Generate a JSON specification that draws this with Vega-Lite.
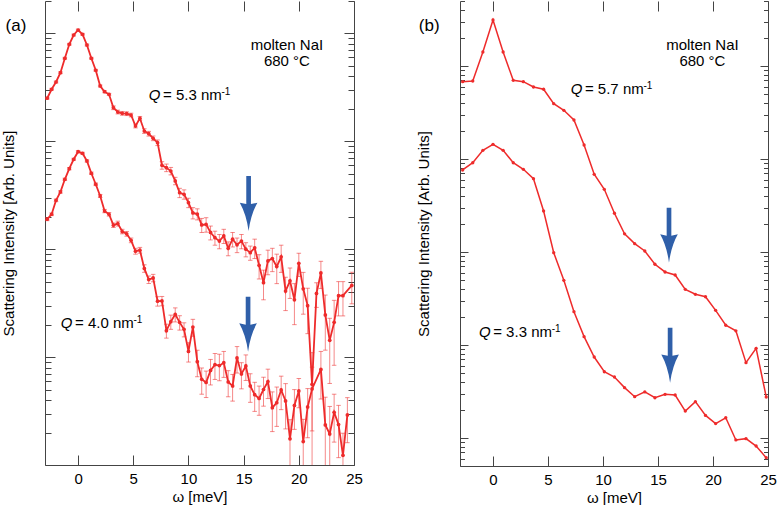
{
  "$schema": "https://vega.github.io/schema/vega-lite/v6.json",
  "background": "white",
  "padding": {"left": 1, "top": 0, "right": 2, "bottom": 0},
  "spacing": 106,
  "bounds": "flush",
  "config": {
    "font": "Liberation Sans",
    "view": {"stroke": null},
    "axis": {
      "domainColor": "#444", "tickColor": "#444", "labelColor": "#000", "titleColor": "#000",
      "labelFont": "Liberation Sans", "titleFont": "Liberation Sans",
      "labelFontSize": 15, "titleFontSize": 15, "titleFontWeight": "normal",
      "grid": false, "domainWidth": 1, "tickWidth": 1, "labelFlush": false
    },
    "text": {"font": "Liberation Sans", "color": "#000"}
  },
  "datasets": {
    "a": [
      {"s":"u","x":-2.8,"y":2510,"e":50},{"s":"u","x":-2.4,"y":3040,"e":60},{"s":"u","x":-2.0,"y":3550,"e":70},
      {"s":"u","x":-1.6,"y":4330,"e":85},{"s":"u","x":-1.2,"y":5890,"e":120},{"s":"u","x":-0.8,"y":7940,"e":160},
      {"s":"u","x":-0.4,"y":9680,"e":190},{"s":"u","x":0,"y":10770,"e":210},{"s":"u","x":0.4,"y":9820,"e":200},
      {"s":"u","x":0.8,"y":7820,"e":160},{"s":"u","x":1.2,"y":5890,"e":120},{"s":"u","x":1.6,"y":4560,"e":90},
      {"s":"u","x":2.0,"y":3260,"e":65},{"s":"u","x":2.4,"y":2885,"e":60},{"s":"u","x":2.8,"y":2730,"e":55},
      {"s":"u","x":3.2,"y":2050,"e":82},{"s":"u","x":3.6,"y":1871,"e":75},{"s":"u","x":4.0,"y":1820,"e":73},
      {"s":"u","x":4.4,"y":1806,"e":72},{"s":"u","x":4.8,"y":1754,"e":70},{"s":"u","x":5.2,"y":1389,"e":56},
      {"s":"u","x":5.6,"y":1636,"e":65},{"s":"u","x":6.0,"y":1247,"e":62},{"s":"u","x":6.4,"y":1178,"e":59},
      {"s":"u","x":6.8,"y":1068,"e":53},{"s":"u","x":7.2,"y":972,"e":58},{"s":"u","x":7.6,"y":600,"e":48},
      {"s":"u","x":8.0,"y":570,"e":46},{"s":"u","x":8.4,"y":531,"e":42},{"s":"u","x":8.8,"y":430,"e":34},
      {"s":"u","x":9.2,"y":334,"e":33},{"s":"u","x":9.6,"y":323,"e":32},{"s":"u","x":10.0,"y":270,"e":27},
      {"s":"u","x":10.4,"y":217,"e":26},{"s":"u","x":10.8,"y":212,"e":25},{"s":"u","x":11.2,"y":168,"e":25},
      {"s":"u","x":11.6,"y":170,"e":26},{"s":"u","x":12.0,"y":143,"e":21},{"s":"u","x":12.4,"y":128,"e":19},
      {"s":"u","x":12.8,"y":119,"e":18},{"s":"u","x":13.2,"y":133,"e":20},{"s":"u","x":13.6,"y":102,"e":15},
      {"s":"u","x":14.0,"y":124,"e":19},{"s":"u","x":14.4,"y":110,"e":17},{"s":"u","x":14.8,"y":119,"e":18},
      {"s":"u","x":15.2,"y":100,"e":15},{"s":"u","x":15.6,"y":93,"e":14},{"s":"u","x":16.0,"y":103,"e":21},
      {"s":"u","x":16.4,"y":71,"e":18},{"s":"u","x":16.8,"y":49,"e":15},{"s":"u","x":17.2,"y":78,"e":20},
      {"s":"u","x":17.6,"y":82,"e":20},{"s":"u","x":18.0,"y":69,"e":21},{"s":"u","x":18.4,"y":85,"e":24},
      {"s":"u","x":18.8,"y":41,"e":14},{"s":"u","x":19.2,"y":51,"e":16},{"s":"u","x":19.6,"y":34,"e":14},
      {"s":"u","x":20.0,"y":74,"e":18},{"s":"u","x":20.4,"y":43,"e":18},{"s":"u","x":20.8,"y":30,"e":13.5},
      {"s":"u","x":21.2,"y":5.6,"e":5.4},{"s":"u","x":21.6,"y":38.9,"e":10},{"s":"u","x":22.0,"y":60.3,"e":17},
      {"s":"u","x":22.4,"y":24.6,"e":13},{"s":"u","x":22.8,"y":14.3,"e":8.6},{"s":"u","x":23.2,"y":21,"e":12.6},
      {"s":"u","x":23.6,"y":37.1,"e":13},{"s":"u","x":24.0,"y":37.1,"e":13},{"s":"u","x":24.8,"y":46.2,"e":15},
      {"s":"l","x":-2.8,"y":190,"e":6},{"s":"l","x":-2.4,"y":211,"e":6},{"s":"l","x":-2.0,"y":284,"e":8},
      {"s":"l","x":-1.6,"y":340,"e":9},{"s":"l","x":-1.2,"y":445,"e":11},{"s":"l","x":-0.8,"y":558,"e":13},
      {"s":"l","x":-0.4,"y":682,"e":15},{"s":"l","x":0,"y":802,"e":17},{"s":"l","x":0.4,"y":775,"e":17},
      {"s":"l","x":0.8,"y":658,"e":15},{"s":"l","x":1.2,"y":506,"e":13},{"s":"l","x":1.6,"y":400,"e":11},
      {"s":"l","x":2.0,"y":312,"e":10},{"s":"l","x":2.4,"y":226,"e":8},{"s":"l","x":2.8,"y":211,"e":8},
      {"s":"l","x":3.2,"y":167,"e":8},{"s":"l","x":3.6,"y":173,"e":9},{"s":"l","x":4.0,"y":146,"e":7},
      {"s":"l","x":4.4,"y":139,"e":7},{"s":"l","x":4.8,"y":121,"e":6},{"s":"l","x":5.2,"y":96,"e":6},
      {"s":"l","x":5.6,"y":98,"e":6},{"s":"l","x":6.0,"y":66.4,"e":5.3},{"s":"l","x":6.4,"y":52.3,"e":4.2},
      {"s":"l","x":6.8,"y":54.2,"e":4.3},{"s":"l","x":7.2,"y":33,"e":3.3},{"s":"l","x":7.6,"y":33.2,"e":3.3},
      {"s":"l","x":8.0,"y":17.6,"e":2.6},{"s":"l","x":8.4,"y":21.3,"e":3.2},{"s":"l","x":8.8,"y":24.9,"e":3.7},
      {"s":"l","x":9.2,"y":21.0,"e":3.2},{"s":"l","x":9.6,"y":18.1,"e":2.7},{"s":"l","x":10.0,"y":11.3,"e":2.3},
      {"s":"l","x":10.4,"y":19.0,"e":3.4},{"s":"l","x":10.8,"y":9.08,"e":2.5},{"s":"l","x":11.2,"y":6.23,"e":1.7},
      {"s":"l","x":11.6,"y":5.82,"e":1.6},{"s":"l","x":12.0,"y":7.52,"e":2.0},{"s":"l","x":12.4,"y":8.51,"e":2.3},
      {"s":"l","x":12.8,"y":8.34,"e":2.3},{"s":"l","x":13.2,"y":8.89,"e":2.4},{"s":"l","x":13.6,"y":5.89,"e":1.6},
      {"s":"l","x":14.0,"y":5.41,"e":1.5},{"s":"l","x":14.4,"y":9.82,"e":2.7},{"s":"l","x":14.8,"y":6.98,"e":1.9},
      {"s":"l","x":15.2,"y":8.28,"e":2.2},{"s":"l","x":15.6,"y":5.41,"e":1.6},{"s":"l","x":16.0,"y":4.49,"e":1.35},
      {"s":"l","x":16.4,"y":4.14,"e":1.25},{"s":"l","x":16.8,"y":5.01,"e":1.5},{"s":"l","x":17.2,"y":5.93,"e":1.8},
      {"s":"l","x":17.6,"y":3.40,"e":1.36},{"s":"l","x":18.0,"y":3.78,"e":1.5},{"s":"l","x":18.4,"y":4.96,"e":1.7},
      {"s":"l","x":18.8,"y":3.92,"e":1.76},{"s":"l","x":19.2,"y":1.75,"e":0.88},{"s":"l","x":19.6,"y":3.57,"e":1.43},
      {"s":"l","x":20.0,"y":4.86,"e":1.46},{"s":"l","x":20.4,"y":1.65,"e":1.0},{"s":"l","x":20.8,"y":3.45,"e":1.66},
      {"s":"l","x":21.2,"y":5.07,"e":3.0},{"s":"l","x":22.0,"y":7.69,"e":3.6},{"s":"l","x":22.4,"y":2.35,"e":1.9},
      {"s":"l","x":22.8,"y":1.94,"e":1.55},{"s":"l","x":23.2,"y":3.08,"e":1.45},{"s":"l","x":23.6,"y":2.37,"e":1.2},
      {"s":"l","x":24.0,"y":1.23,"e":0.74},{"s":"l","x":24.4,"y":2.91,"e":1.3}
    ],
    "a_arr": [{"x":15.45,"y":265.5},{"x":15.4,"y":20.2}],
    "a_q": [{"x":7.47,"y":2442,"t":"= 5.3 nm"},{"x":-0.51,"y":18.6,"t":"= 4.0 nm"}],
    "a_m": [{"x":18.92,"y":7031,"t":"molten NaI"},{"x":18.92,"y":4998,"t":"680 °C"}],
    "a_p": [{"x":-5.63,"y":11720,"t":"(a)"}],
    "b": [
      {"s":"u","x":-2.76,"y":6780},{"s":"u","x":-1.84,"y":6900},{"s":"u","x":-0.92,"y":14150},{"s":"u","x":0,"y":31260},
      {"s":"u","x":0.92,"y":14150},{"s":"u","x":1.84,"y":7020},{"s":"u","x":2.76,"y":6780},{"s":"u","x":3.68,"y":5950},
      {"s":"u","x":4.6,"y":5620},{"s":"u","x":5.52,"y":3935},{"s":"u","x":6.44,"y":3340},{"s":"u","x":7.36,"y":2627},
      {"s":"u","x":8.28,"y":1415},{"s":"u","x":9.2,"y":685},{"s":"u","x":10.12,"y":472},{"s":"u","x":11.04,"y":261},
      {"s":"u","x":11.96,"y":157},{"s":"u","x":12.88,"y":123},{"s":"u","x":13.8,"y":102.5},{"s":"u","x":14.72,"y":73.8},
      {"s":"u","x":15.64,"y":61},{"s":"u","x":16.56,"y":56.6},{"s":"u","x":17.48,"y":39.7},{"s":"u","x":18.4,"y":35.1},
      {"s":"u","x":19.32,"y":33.0},{"s":"u","x":20.24,"y":23.6},{"s":"u","x":21.16,"y":16.3},{"s":"u","x":22.08,"y":14.2},
      {"s":"u","x":23.0,"y":6.46},{"s":"u","x":23.92,"y":9.22},{"s":"u","x":24.84,"y":2.76},
      {"s":"l","x":-2.76,"y":762},{"s":"l","x":-1.84,"y":912},{"s":"l","x":-0.92,"y":1241},{"s":"l","x":0,"y":1439},
      {"s":"l","x":0.92,"y":1241},{"s":"l","x":1.84,"y":912},{"s":"l","x":2.76,"y":775},{"s":"l","x":3.68,"y":614},
      {"s":"l","x":4.6,"y":276},{"s":"l","x":5.52,"y":98.3},{"s":"l","x":6.44,"y":49.6},{"s":"l","x":7.36,"y":22.8},
      {"s":"l","x":8.28,"y":12.3},{"s":"l","x":9.2,"y":7.43},{"s":"l","x":10.12,"y":5.16},{"s":"l","x":11.04,"y":4.53},
      {"s":"l","x":11.96,"y":3.48},{"s":"l","x":12.88,"y":2.78},{"s":"l","x":13.8,"y":3.13},{"s":"l","x":14.72,"y":2.71},
      {"s":"l","x":15.64,"y":2.95},{"s":"l","x":16.56,"y":2.90},{"s":"l","x":17.48,"y":1.95},{"s":"l","x":18.4,"y":2.46},
      {"s":"l","x":19.32,"y":1.75},{"s":"l","x":20.24,"y":1.43},{"s":"l","x":21.16,"y":1.65},{"s":"l","x":22.08,"y":0.953},
      {"s":"l","x":23.0,"y":0.984},{"s":"l","x":23.92,"y":0.82},{"s":"l","x":24.84,"y":0.614}
    ],
    "b_arr": [{"x":16.0,"y":151.7},{"x":16.1,"y":7.76}],
    "b_q": [{"x":8.13,"y":4966,"t":"= 5.7 nm"},{"x":-0.21,"y":12.2,"t":"= 3.3 nm"}],
    "b_m": [{"x":19.04,"y":14690,"t":"molten NaI"},{"x":19.04,"y":9880,"t":"680 °C"}],
    "b_p": [{"x":-5.8,"y":26600,"t":"(b)"}]
  },
  "hconcat": [
    {
      "width": 309,
      "height": 464,
      "layer": [
        {
          "encoding": {
            "x": {"field": "x", "type": "quantitative",
                  "scale": {"domain": [-3, 25], "nice": false, "zero": false},
                  "axis": {"orient": "bottom", "values": [0, 5, 10, 15, 20, 25], "tickSize": -10, "labelPadding": 16, "title": "ω [meV]", "titlePadding": 3}},
            "y": {"field": "y", "type": "quantitative",
                  "scale": {"type": "log", "domain": [1, 20000], "nice": false},
                  "axis": {"orient": "left", "labels": false,
                           "values": [1,2,3,4,5,6,7,8,9,10,20,30,40,50,60,70,80,90,100,200,300,400,500,600,700,800,900,1000,2000,3000,4000,5000,6000,7000,8000,9000,10000,20000],
                           "tickSize": {"condition": {"test": "abs(log(datum.value)/LN10 - round(log(datum.value)/LN10)) < 0.01", "value": -10}, "value": -6},
                           "title": "Scattering Intensity [Arb. Units]", "titlePadding": 28}}
          },
          "layer": [
            {"data": {"name": "a"}, "mark": {"type": "errorbar", "clip": true, "color": "#ef3b3b", "opacity": 0.6, "ticks": {"size": 4.5}},
             "encoding": {"yError": {"field": "e"}, "detail": {"field": "s"}}},
            {"data": {"name": "a"}, "mark": {"type": "line", "color": "#ee2b2b", "strokeWidth": 1.8, "point": {"filled": true, "size": 14, "color": "#ee2b2b", "opacity": 1}},
             "encoding": {"detail": {"field": "s"}}},
            {"data": {"name": "a_arr"}, "mark": {"type": "point", "shape": "M-0.085,-1L0.085,-1L0.085,0.02L0.32,-0.03Q0.08,0.4 0,1Q-0.08,0.4 -0.32,-0.03L-0.085,0.02Z", "filled": true, "color": "#2f5fa9", "opacity": 1, "size": 3025}},
            {"data": {"name": "a_q"}, "mark": {"type": "text", "text": "Q", "fontStyle": "italic", "align": "right", "baseline": "alphabetic", "fontSize": 15}},
            {"data": {"name": "a_q"}, "mark": {"type": "text", "align": "left", "baseline": "alphabetic", "fontSize": 15, "dx": 2.5}, "encoding": {"text": {"field": "t"}}},
            {"data": {"name": "a_q"}, "mark": {"type": "text", "text": "-1", "align": "left", "baseline": "alphabetic", "fontSize": 10, "dx": 61, "dy": -5}},
            {"data": {"name": "a_m"}, "mark": {"type": "text", "align": "center", "baseline": "alphabetic", "fontSize": 15}, "encoding": {"text": {"field": "t"}}},
            {"data": {"name": "a_p"}, "mark": {"type": "text", "align": "center", "baseline": "middle", "fontSize": 17}, "encoding": {"text": {"field": "t"}}}
          ]
        },
        {
          "data": {"name": "a_arr"},
          "mark": {"type": "point", "opacity": 0},
          "encoding": {
            "x": {"field": "x", "type": "quantitative",
                  "scale": {"domain": [-3, 25], "nice": false, "zero": false},
                  "axis": {"orient": "top", "values": [0, 5, 10, 15, 20, 25], "tickSize": -10, "labels": false, "domain": false, "title": null}},
            "y": {"field": "y", "type": "quantitative",
                  "scale": {"type": "log", "domain": [1, 20000], "nice": false},
                  "axis": {"orient": "right", "labels": false,
                           "values": [1,2,3,4,5,6,7,8,9,10,20,30,40,50,60,70,80,90,100,200,300,400,500,600,700,800,900,1000,2000,3000,4000,5000,6000,7000,8000,9000,10000,20000],
                           "tickSize": {"condition": {"test": "abs(log(datum.value)/LN10 - round(log(datum.value)/LN10)) < 0.01", "value": -10}, "value": -6},
                           "title": null}}
          }
        }
      ],
      "resolve": {"axis": {"x": "independent", "y": "independent"}}
    },
    {
      "width": 308,
      "height": 465,
      "layer": [
        {
          "encoding": {
            "x": {"field": "x", "type": "quantitative",
                  "scale": {"domain": [-3, 25], "nice": false, "zero": false},
                  "axis": {"orient": "bottom", "values": [0, 5, 10, 15, 20, 25], "tickSize": -10, "labelPadding": 16, "title": "ω [meV]", "titlePadding": 3}},
            "y": {"field": "y", "type": "quantitative",
                  "scale": {"type": "log", "domain": [0.5, 50000], "nice": false},
                  "axis": {"orient": "left", "labels": false,
                           "values": [0.5,0.6,0.7,0.8,0.9,1,2,3,4,5,6,7,8,9,10,20,30,40,50,60,70,80,90,100,200,300,400,500,600,700,800,900,1000,2000,3000,4000,5000,6000,7000,8000,9000,10000,20000,30000,40000,50000],
                           "tickSize": {"condition": {"test": "abs(log(datum.value)/LN10 - round(log(datum.value)/LN10)) < 0.01", "value": -8}, "value": -4.5},
                           "title": "Scattering Intensity [Arb. Units]", "titlePadding": 28}}
          },
          "layer": [
            {"data": {"name": "b"}, "mark": {"type": "line", "color": "#ee2b2b", "strokeWidth": 1.5, "point": {"filled": true, "size": 11, "color": "#ee2b2b", "opacity": 1}},
             "encoding": {"detail": {"field": "s"}}},
            {"data": {"name": "b_arr"}, "mark": {"type": "point", "shape": "M-0.085,-1L0.085,-1L0.085,0.02L0.32,-0.03Q0.08,0.4 0,1Q-0.08,0.4 -0.32,-0.03L-0.085,0.02Z", "filled": true, "color": "#2f5fa9", "opacity": 1, "size": 3025}},
            {"data": {"name": "b_q"}, "mark": {"type": "text", "text": "Q", "fontStyle": "italic", "align": "right", "baseline": "alphabetic", "fontSize": 15}},
            {"data": {"name": "b_q"}, "mark": {"type": "text", "align": "left", "baseline": "alphabetic", "fontSize": 15, "dx": 2.5}, "encoding": {"text": {"field": "t"}}},
            {"data": {"name": "b_q"}, "mark": {"type": "text", "text": "-1", "align": "left", "baseline": "alphabetic", "fontSize": 10, "dx": 61, "dy": -5}},
            {"data": {"name": "b_m"}, "mark": {"type": "text", "align": "center", "baseline": "alphabetic", "fontSize": 15}, "encoding": {"text": {"field": "t"}}},
            {"data": {"name": "b_p"}, "mark": {"type": "text", "align": "center", "baseline": "middle", "fontSize": 17}, "encoding": {"text": {"field": "t"}}}
          ]
        },
        {
          "data": {"name": "b_arr"},
          "mark": {"type": "point", "opacity": 0},
          "encoding": {
            "x": {"field": "x", "type": "quantitative",
                  "scale": {"domain": [-3, 25], "nice": false, "zero": false},
                  "axis": {"orient": "top", "values": [0, 5, 10, 15, 20, 25], "tickSize": -10, "labels": false, "domain": false, "title": null}},
            "y": {"field": "y", "type": "quantitative",
                  "scale": {"type": "log", "domain": [0.5, 50000], "nice": false},
                  "axis": {"orient": "right", "labels": false,
                           "values": [0.5,0.6,0.7,0.8,0.9,1,2,3,4,5,6,7,8,9,10,20,30,40,50,60,70,80,90,100,200,300,400,500,600,700,800,900,1000,2000,3000,4000,5000,6000,7000,8000,9000,10000,20000,30000,40000,50000],
                           "tickSize": {"condition": {"test": "abs(log(datum.value)/LN10 - round(log(datum.value)/LN10)) < 0.01", "value": -8}, "value": -4.5},
                           "title": null}}
          }
        }
      ],
      "resolve": {"axis": {"x": "independent", "y": "independent"}}
    }
  ]
}
